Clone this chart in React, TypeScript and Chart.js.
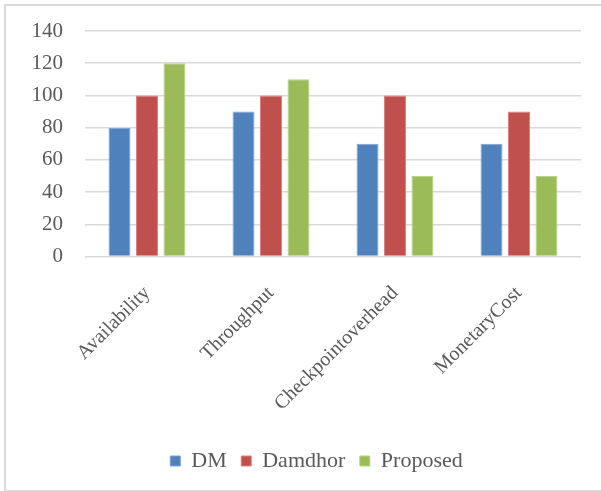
import React, { useEffect, useRef } from "react";
import { Chart, registerables } from "chart.js";

Chart.register(...registerables);

const categories = ["Availability", "Throughput", "Checkpointoverhead", "MonetaryCost"];
const dmValues = [80, 90, 70, 70];
const damdhorValues = [100, 100, 100, 90];
const proposedValues = [120, 110, 50, 50];
const seriesNames = ["DM", "Damdhor", "Proposed"];
const yMin = 0;
const yMax = 140;
const yStep = 20;

const FONT = "'Liberation Serif', 'Times New Roman', serif";
const TEXT = "#595959";

Chart.defaults.font.family = FONT;
Chart.defaults.color = TEXT;

export default function App() {
  const ref = useRef<HTMLCanvasElement | null>(null);

  useEffect(() => {
    if (!ref.current) return;
    const chart = new Chart(ref.current, {
      type: "bar",
      data: {
        labels: categories,
        datasets: [
          { label: seriesNames[0], data: dmValues, backgroundColor: "#4F81BD", borderColor: "#7FA3D1", borderWidth: 1 },
          { label: seriesNames[1], data: damdhorValues, backgroundColor: "#C0504D", borderColor: "#D98381", borderWidth: 1 },
          { label: seriesNames[2], data: proposedValues, backgroundColor: "#9BBB59", borderColor: "#BBD38A", borderWidth: 1 },
        ],
      },
      options: {
        responsive: false,
        animation: false,
        layout: { padding: { left: 0, right: 20, top: 31, bottom: 9 } },
        datasets: { bar: { categoryPercentage: 0.665, barPercentage: 0.8 } },
        plugins: {
          tooltip: { enabled: false },
          legend: {
            position: "bottom",
            fullSize: false,
            labels: {
              boxWidth: 10,
              boxHeight: 10,
              padding: 14.5,
              color: TEXT,
              font: { family: FONT, size: 22 },
              generateLabels: (c: any) => {
                const items = Chart.defaults.plugins.legend.labels.generateLabels(c);
                const last = items[items.length - 1];
                last.text = last.text + "\u00a0\u00a0\u00a0\u00a0\u00a0\u00a0";
                return items;
              },
            },
          },
        },
        scales: {
          x: {
            grid: { display: false },
            border: { display: false },
            ticks: {
              autoSkip: false,
              minRotation: 45,
              maxRotation: 45,
              color: TEXT,
              padding: 17,
              font: { family: FONT, size: 20 },
            },
            afterFit: (s: any) => {
              s.height = 179;
            },
          },
          y: {
            min: yMin,
            max: yMax,
            grid: {
              color: "#D9D9D9",
              lineWidth: 1.5,
              drawTicks: true,
              tickLength: 14,
              tickColor: "rgba(0,0,0,0)",
            },
            border: { display: false },
            ticks: {
              stepSize: yStep,
              color: TEXT,
              padding: 8,
              font: { family: FONT, size: 21 },
            },
            afterFit: (s: any) => {
              s.width = 85;
            },
          },
        },
      } as any,
    });
    return () => chart.destroy();
  }, []);

  return (
    <div
      style={{
        position: "fixed",
        left: 0,
        top: 0,
        width: 601,
        height: 491,
        overflow: "hidden",
        background: "#fff",
      }}
    >
      <div
        style={{
          position: "absolute",
          left: 4,
          top: 4,
          width: 620,
          height: 484,
          border: "2px solid #D9D9D9",
        }}
      />
      <canvas ref={ref} width={601} height={491} style={{ position: "absolute", left: 0, top: 0 }} />
    </div>
  );
}
